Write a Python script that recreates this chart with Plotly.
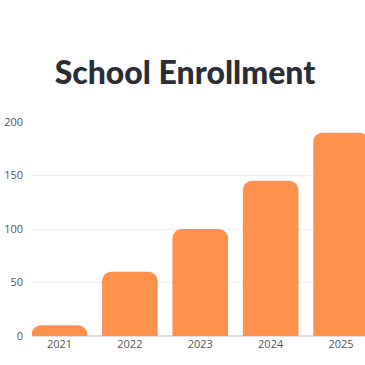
import plotly.graph_objects as go

years = ["2021", "2022", "2023", "2024", "2025"]
enrollment = [10, 60, 100, 145, 190]
y_ticks = [0, 50, 100, 150, 200]

fig = go.Figure(go.Bar(
    x=years, y=enrollment,
    marker=dict(color="#FF914D", cornerradius=9, line=dict(width=0)),
    width=0.79,
    hoverinfo="skip",
))

fig.update_layout(
    width=365, height=365,
    paper_bgcolor="white", plot_bgcolor="white",
    margin=dict(l=32, r=0, t=122, b=29),
    showlegend=False,
    title=dict(text="School Enrollment", x=185 / 365, xanchor="center",
               y=1 - 73 / 365, yanchor="middle", yref="container",
               font=dict(family="Lato", size=32, color="#2B2D36", weight=900)),
    xaxis=dict(type="category", range=[-0.39, 4.34], showgrid=False, showline=False,
               ticks="", automargin=False,
               tickfont=dict(family="Open Sans", size=11, color="#555555")),
    yaxis=dict(range=[0, 200], tickvals=y_ticks, showgrid=True, gridcolor="#EEEEEE", gridwidth=1,
               zeroline=True, zerolinecolor="#E0E0E0", showline=False, ticks="",
               ticklabelstandoff=8, automargin=False,
               tickfont=dict(family="Open Sans", size=11, color="#555555")),
)
fig.write_html("out.html", config={"displayModeBar": False},
               post_script="document.body.style.margin='0';")
